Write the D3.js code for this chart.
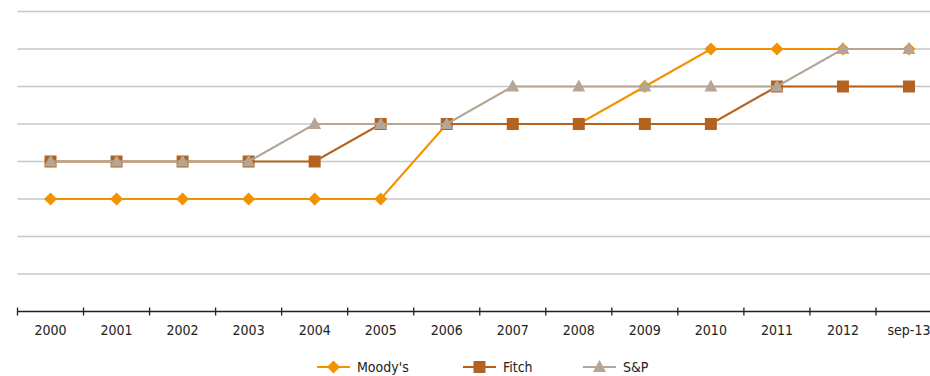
<!DOCTYPE html>
<html><head><meta charset="utf-8">
<script src="https://cdn.jsdelivr.net/npm/d3@7"></script>
<style>body{margin:0;background:#fff}svg{display:block}</style>
</head><body><svg id="c" width="930" height="376"></svg>
<script>
const categories = ["2000","2001","2002","2003","2004","2005","2006","2007","2008","2009","2010","2011","2012","sep-13"];
const moodys = [3,3,3,3,3,3,5,5,5,6,7,7,7,7];
const fitch  = [4,4,4,4,4,5,5,5,5,5,5,6,6,6];
const sp     = [4,4,4,4,5,5,5,6,6,6,6,6,7,7];
const yTicks = [1,2,3,4,5,6,7,8];
const seriesNames = ["Moody's","Fitch","S&P"];

const svg = d3.select("#c");
const font = "'DejaVu Sans Condensed', 'DejaVu Sans', sans-serif";
const x = d3.scaleBand().domain(categories).range([17.5, 942]);
const y = d3.scaleLinear().domain([0, 8]).range([311.5, 11.5]);

// gridlines
svg.append("g").selectAll("line").data(yTicks).join("line")
  .attr("x1", 17.5).attr("x2", 930)
  .attr("y1", d => y(d)).attr("y2", d => y(d))
  .attr("stroke", "#c8c8c8").attr("stroke-width", 1.5);

// x axis
const ax = svg.append("g").attr("transform", `translate(0,${y(0)})`);
ax.append("line").attr("x1", 17.5).attr("x2", 930).attr("stroke", "#222").attr("stroke-width", 1.3);
const bounds = categories.map(c => x(c));
ax.selectAll("line.tk").data(bounds).join("line").attr("class","tk")
  .attr("x1", d => d).attr("x2", d => d).attr("y1", -4).attr("y2", 4)
  .attr("stroke", "#222").attr("stroke-width", 1.3);
ax.selectAll("text").data(categories).join("text")
  .attr("x", d => x(d) + x.bandwidth()/2).attr("y", 23.5)
  .attr("text-anchor", "middle").attr("font-family", font).attr("font-size", 14)
  .attr("fill", "#222").text(d => d);

const colors = ["#f39200", "#b4621f", "#b5a594"];
const data = [moodys, fitch, sp];
const cx = i => x(categories[i]) + x.bandwidth()/2;
const line = d3.line().x((d,i) => cx(i)).y(d => y(d));

function marker(g, type, color) {
  if (type === 0) g.append("path").attr("d", "M0,-6.5L6.5,0L0,6.5L-6.5,0Z").attr("fill", color);
  else if (type === 1) g.append("rect").attr("x", -6).attr("y", -6).attr("width", 12).attr("height", 12).attr("fill", color);
  else g.append("path").attr("d", "M0,-7L6.5,5L-6.5,5Z").attr("fill", color);
}

data.forEach((vals, s) => {
  svg.append("path").datum(vals).attr("d", line).attr("fill", "none")
    .attr("stroke", colors[s]).attr("stroke-width", 2.2);
  vals.forEach((v, i) => {
    const g = svg.append("g").attr("transform", `translate(${cx(i)},${y(v)})`);
    marker(g, s, colors[s]);
  });
});

// legend
const legX = [317, 463, 583];
seriesNames.forEach((n, s) => {
  const g = svg.append("g").attr("transform", `translate(${legX[s]},367)`);
  g.append("line").attr("x1", 0).attr("x2", 33).attr("stroke", colors[s]).attr("stroke-width", 2.2);
  const m = g.append("g").attr("transform", "translate(16.5,0)");
  marker(m, s, colors[s]);
  g.append("text").attr("x", 40).attr("y", 5.3).attr("font-family", font).attr("font-size", 14)
    .attr("fill", "#222").text(n);
});
</script></body></html>
